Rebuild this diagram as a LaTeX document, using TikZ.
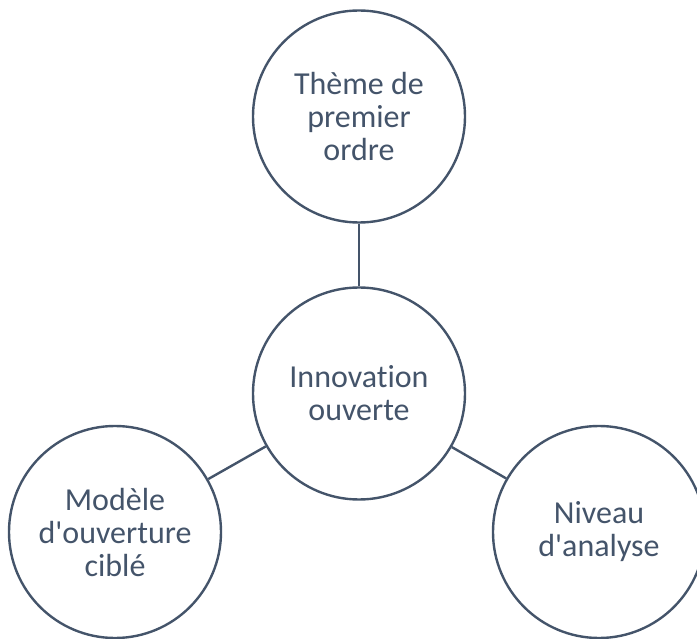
\documentclass[tikz,border=0pt]{standalone}
\usepackage{fontspec}
\setmainfont{Carlito}[Ligatures={CommonOff,TeXOff}]
\definecolor{ink}{HTML}{44546A}
\begin{document}
\begin{tikzpicture}[x=1pt,y=-1pt,
  bubble/.style={circle,draw=ink,line width=2.4pt,minimum size=212pt,inner sep=0pt,
    align=center,text=ink,font=\fontsize{32}{33}\selectfont},
  link/.style={draw=ink,line width=2.4pt}]
\useasboundingbox (0,0) rectangle (697,639);
\node[bubble] (top) at (359,116.5) {Thème de\\premier\\ordre};
\node[bubble] (mid) at (359,393.5) {Innovation\\ouverte};
\node[bubble] (left) at (115,532) {Modèle\\d'ouverture\\ciblé};
\node[bubble] (right) at (599,532) {Niveau\\d'analyse};
\draw[link] (mid) -- (top);
\draw[link] (mid) -- (left);
\draw[link] (mid) -- (right);
\end{tikzpicture}
\end{document}
